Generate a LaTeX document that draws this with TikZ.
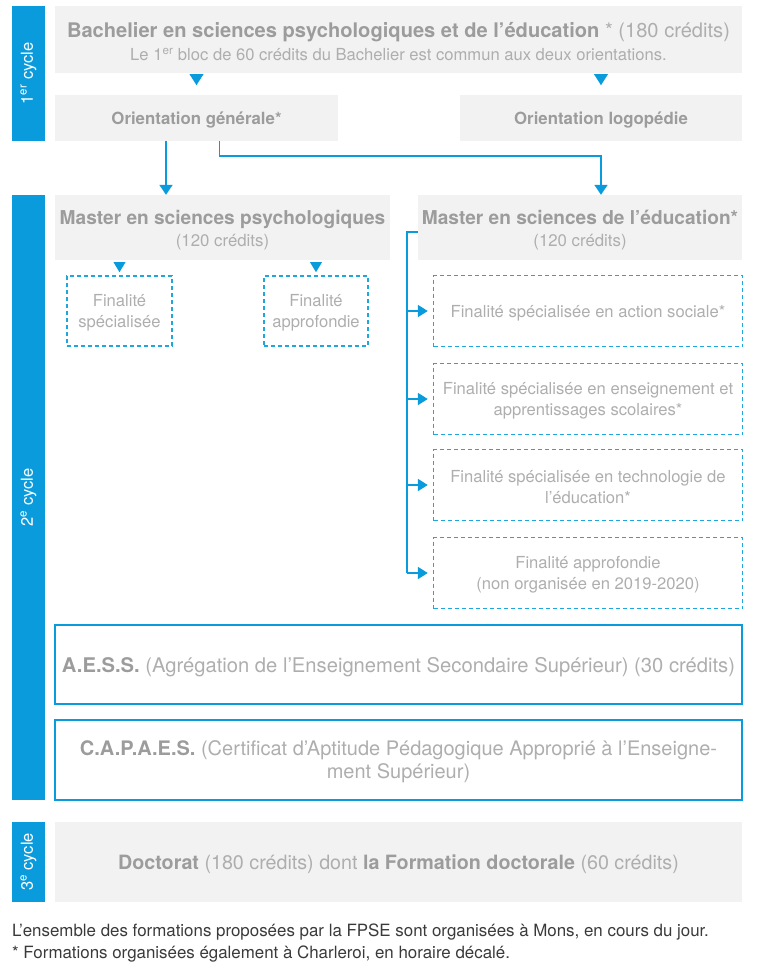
\documentclass[tikz,border=0pt]{standalone}
\usepackage{fontspec}
\setmainfont{TeX Gyre Heros}
\usetikzlibrary{arrows.meta,calc}
\definecolor{blu}{HTML}{0A9BDC}
\definecolor{dblu}{HTML}{1FA6DC}
\definecolor{gbox}{HTML}{F2F2F2}
\definecolor{gtxt}{HTML}{AEAEAE}
\definecolor{gbold}{HTML}{9C9C9C}
\definecolor{ftxt}{HTML}{3A3A3A}
\newcommand{\bt}[1]{{\bfseries\color{gbold}#1}}
\begin{document}
\begin{tikzpicture}[x=1pt,y=-1pt,
  graybox/.style={fill=gbox,draw=none,inner sep=0pt},
  dbox/.style={draw=dblu,dash pattern=on 4pt off 3pt,line width=1.4pt,inner sep=0pt},
  sbox/.style={draw=blu,line width=1.4pt,inner sep=0pt},
  txt/.style={inner sep=0pt,align=center,text=gtxt},
  dtxt/.style={txt,font=\fontsize{16.6}{21}\selectfont},
  cyclebar/.style={fill=blu,inner sep=0pt},
  cyclelab/.style={white,rotate=90,inner sep=0pt,font=\fontsize{16.5}{18}\selectfont},
  arr/.style={draw=blu,line width=1.8pt,-{Triangle[width=13pt,length=10pt]}},
  harr/.style={draw=blu,line width=1.8pt,-{Triangle[width=12pt,length=10pt]},shorten >=5pt},
  ln/.style={draw=blu,line width=1.8pt},
  tri/.style={fill=blu}
]
\useasboundingbox (0,0) rectangle (768,967);
% cycle bars
\node[cyclebar,minimum width=33pt,minimum height=135pt] (c1) at (28.5,73.5) {};
\node[cyclelab] (c1t) at (c1.center) {1\textsuperscript{er} cycle};
\node[cyclebar,minimum width=33pt,minimum height=605pt] (c2) at (28.5,497.5) {};
\node[cyclelab] (c2t) at (c2.center) {2\textsuperscript{e} cycle};
\node[cyclebar,minimum width=33pt,minimum height=80pt] (c3) at (28.5,862) {};
\node[cyclelab] (c3t) at (c3.center) {3\textsuperscript{e} cycle};
% first cycle
\node[graybox,minimum width=687pt,minimum height=67pt] (bach) at (398.5,39.5) {};
\node[txt,font=\fontsize{16.6}{23}\selectfont] (bacht) at ([yshift=-2.5]bach.center)
  {{\fontsize{20.1}{23}\selectfont\bt{Bachelier en sciences psychologiques et de l’éducation} * (180 crédits)}\\
   Le 1\textsuperscript{er} bloc de 60 crédits du Bachelier est commun aux deux orientations.};
\node[graybox,minimum width=283pt,minimum height=46pt] (og) at (196.5,118) {};
\node[txt,font=\fontsize{16.8}{20}\selectfont] (ogt) at ([yshift=-2.5]og.center) {\bt{Orientation générale*}};
\node[graybox,minimum width=282pt,minimum height=46pt] (ol) at (601,118) {};
\node[txt,font=\fontsize{16.8}{20}\selectfont] (olt) at ([yshift=-2.5]ol.center) {\bt{Orientation logopédie}};
\fill[tri] ($(bach.south -| og.north)+(-7,1)$) -- ++(14,0) -- ++(-7,11) -- cycle;
\fill[tri] ($(bach.south -| ol.north)+(-7,1)$) -- ++(14,0) -- ++(-7,11) -- cycle;
% second cycle
\node[graybox,minimum width=335pt,minimum height=65pt] (mp) at (222.5,227.5) {};
\node[txt,font=\fontsize{16.8}{22}\selectfont] (mpt) at ([yshift=-3]mp.center)
  {{\fontsize{19.1}{22}\selectfont\bt{Master en sciences psychologiques}}\\
   (120 crédits)};
\node[graybox,minimum width=324pt,minimum height=65pt] (me) at (580,227.5) {};
\node[txt,font=\fontsize{16.8}{22}\selectfont] (met) at ([yshift=-3]me.center)
  {{\fontsize{19.1}{22}\selectfont\bt{Master en sciences de l’éducation*}}\\
   (120 crédits)};
\draw[arr] ([xshift=-30.5]og.south) -- ([xshift=-30.5]og.south |- mp.north);
\draw[arr] ([xshift=23]og.south) -- ++(0,15) -| ([xshift=21]me.north);
\node[dbox,minimum width=105pt,minimum height=70pt] (fs) at (119.5,311) {};
\node[dtxt] (fst) at ([yshift=-2]fs.center) {Finalité\\spécialisée};
\node[dbox,minimum width=104pt,minimum height=70pt] (fa) at (316,311) {};
\node[dtxt] (fat) at ([yshift=-2]fa.center) {Finalité\\approfondie};
\fill[tri] ($(mp.south -| fs.north)+(-6,2)$) -- ++(12,0) -- ++(-6,10) -- cycle;
\fill[tri] ($(mp.south -| fa.north)+(-6,2)$) -- ++(12,0) -- ++(-6,10) -- cycle;
\node[dbox,minimum width=309pt,minimum height=71pt] (r1) at (588,311) {};
\node[dtxt] (r1t) at ([yshift=-2]r1.center) {Finalité spécialisée en action sociale*};
\node[dbox,minimum width=309pt,minimum height=71pt] (r2) at (588,399) {};
\node[dtxt] (r2t) at ([yshift=-2]r2.center) {Finalité spécialisée en enseignement et\\apprentissages scolaires*};
\node[dbox,minimum width=309pt,minimum height=71pt] (r3) at (588,485) {};
\node[dtxt] (r3t) at ([yshift=-2]r3.center) {Finalité spécialisée en technologie de\\l’éducation*};
\node[dbox,minimum width=309pt,minimum height=71pt] (r4) at (588,573) {};
\node[dtxt] (r4t) at ([yshift=-2]r4.center) {Finalité approfondie\\(non organisée en 2019-2020)};
\coordinate (bk) at ([xshift=-11,yshift=-4.5]me.west);
\draw[ln] ([yshift=-4.5]me.west) -- (bk) -- (bk |- r4.west);
\foreach \r in {r1,r2,r3,r4} \draw[harr] (bk |- \r.west) -- (\r.west);
\node[sbox,minimum width=687pt,minimum height=79pt] (aess) at (398.5,664.5) {};
\node[txt,font=\fontsize{20.2}{23}\selectfont] (aesst) at ([yshift=-2.5]aess.center)
  {\bt{A.E.S.S.} (Agrégation de l’Enseignement Secondaire Supérieur) (30 crédits)};
\node[sbox,minimum width=687pt,minimum height=80pt] (capaes) at (398.5,760) {};
\node[txt,font=\fontsize{20}{23}\selectfont] (capaest) at ([yshift=-2]capaes.center)
  {\bt{C.A.P.A.E.S.} (Certificat d’Aptitude Pédagogique Approprié à l’Enseigne-\\ment Supérieur)};
% third cycle
\node[graybox,minimum width=687pt,minimum height=80pt] (doc) at (398.5,862) {};
\node[txt,font=\fontsize{19.7}{23}\selectfont] (doct) at ([yshift=-2.5]doc.center)
  {\bt{Doctorat} (180 crédits) dont \bt{la Formation doctorale} (60 crédits)};
% footnote
\node[anchor=north west,inner sep=0pt,align=left,text=ftxt,font=\fontsize{16.9}{22}\selectfont] (fn) at (12,924)
  {L’ensemble des formations proposées par la FPSE sont organisées à Mons, en cours du jour.\\
   * Formations organisées également à Charleroi, en horaire décalé.};
\end{tikzpicture}
\end{document}
